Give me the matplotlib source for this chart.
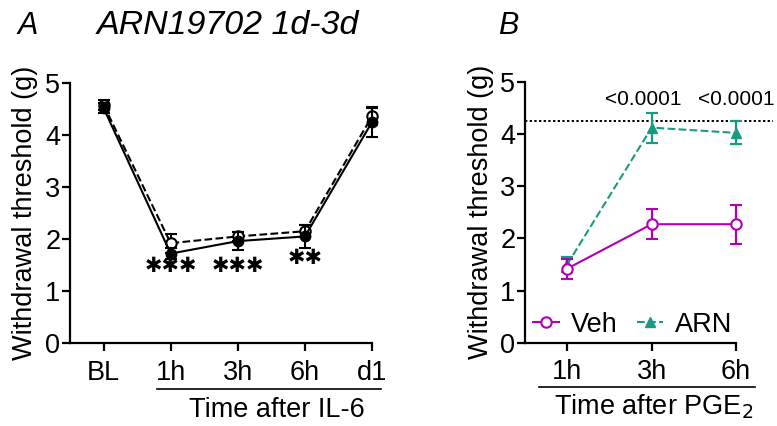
import matplotlib
matplotlib.use("Agg")
import matplotlib.pyplot as plt
from matplotlib.lines import Line2D
import numpy as np

plt.rcParams['font.family'] = ['Liberation Sans', 'DejaVu Sans']

# Panel A data
time_a = ["BL", "1h", "3h", "6h", "d1"]
open_mean = [4.58, 1.92, 2.05, 2.15, 4.36]
open_err = [0.10, 0.18, 0.09, 0.12, 0.16]
filled_mean = [4.52, 1.72, 1.96, 2.05, 4.25]
filled_err = [0.10, 0.10, 0.18, 0.22, 0.28]
stars = ["\u2731\u2731\u2731", "\u2731\u2731\u2731", "\u2731\u2731"]
star_pos = [1, 2, 3]
star_y = [1.48, 1.48, 1.63]

# Panel B data
time_b = ["1h", "3h", "6h"]
veh_mean = [1.42, 2.27, 2.27]
veh_err = [0.19, 0.29, 0.37]
arn_mean = [1.50, 4.12, 4.02]
arn_err = [0.15, 0.29, 0.22]
baseline = 4.25
pvals = ["<0.0001", "<0.0001"]

magenta = "#B000B5"
teal = "#1A9A80"
FS = 19.5

fig = plt.figure(figsize=(7.77, 4.26), dpi=100)
axA = fig.add_axes([0.0901, 0.1948, 0.3887, 0.6103])
axB = fig.add_axes([0.6757, 0.1955, 0.2716, 0.6127])


def style_axis(ax, n, label_x):
    ax.set_ylim(0, 5)
    ax.set_xlim(-0.5, n - 1)
    ax.spines['right'].set_visible(False)
    ax.spines['top'].set_visible(False)
    for s in ['left', 'bottom']:
        ax.spines[s].set_linewidth(1.6)
    ax.tick_params(width=1.6, length=6, labelsize=FS)
    ax.tick_params(axis='y', pad=1)
    ax.tick_params(axis='x', pad=6)
    ax.set_yticks(range(0, 6))
    ax.set_xticks(range(n))
    ax.set_ylabel("Withdrawal threshold (g)", fontsize=FS)
    ax.yaxis.set_label_coords(label_x, 0.5)


# ---- Panel A ----
xa = np.arange(len(time_a))
axA.errorbar(xa, open_mean, yerr=open_err, color='black', ls='--', lw=1.5,
             marker='o', mfc='white', mec='black', ms=7.5, mew=1.5,
             capsize=4, elinewidth=1.5, capthick=1.5, clip_on=False, zorder=3)
axA.errorbar(xa, filled_mean, yerr=filled_err, color='black', ls='-', lw=1.5,
             marker='o', mfc='black', mec='black', ms=7.5,
             capsize=4, elinewidth=1.5, capthick=1.5, clip_on=False, zorder=4)
style_axis(axA, len(time_a), -0.106)
axA.set_xticklabels(time_a)
for s, x, y in zip(stars, star_pos, star_y):
    axA.text(x, y, s, ha='center', va='center', fontsize=15,
             family='DejaVu Sans')

# ---- Panel B ----
xb = np.arange(len(time_b))
axB.plot([-0.5, 2.44], [baseline, baseline], ls=(0, (1.2, 1.2)), color='black',
         lw=1.4, clip_on=False, zorder=1)
axB.errorbar(xb, arn_mean, yerr=arn_err, color=teal, ls='--', lw=1.5,
             marker='^', mfc=teal, mec=teal, ms=7.5,
             capsize=4.5, elinewidth=1.6, capthick=1.6, clip_on=False, zorder=3)
axB.errorbar(xb, veh_mean, yerr=veh_err, color=magenta, ls='-', lw=1.5,
             marker='o', mfc='white', mec=magenta, ms=7.5, mew=1.5,
             capsize=4.5, elinewidth=1.6, capthick=1.6, clip_on=False, zorder=4)
style_axis(axB, len(time_b), -0.147)
axB.set_xticklabels(time_b)
p_off = [-0.1, 0.0]
for i, p in enumerate(pvals):
    axB.text(xb[i + 1] + p_off[i], 4.55, p, ha='center', va='baseline',
             fontsize=15)

handles = [Line2D([], [], color=magenta, ls='-', lw=1.5, marker='o',
                  mfc='white', mec=magenta, ms=7.5, mew=1.5),
           Line2D([], [], color=teal, ls='--', lw=1.5, marker='^',
                  mfc=teal, mec=teal, ms=7.5)]
axB.legend(handles, ["Veh", "ARN"], loc='center left', ncol=2, frameon=False,
           fontsize=FS, bbox_to_anchor=(0.04, 0.068), handlelength=0.95,
           handletextpad=0.44, columnspacing=0.7, borderaxespad=0,
           borderpad=0)

# x-axis group brackets and captions
fig.add_artist(Line2D([157 / 777, 381 / 777], [1 - 389 / 426] * 2,
                      color='black', lw=1.2))
fig.text(277 / 777, 1 - 410 / 426, "Time after IL-6", ha='center', va='center',
         fontsize=FS)
fig.add_artist(Line2D([539 / 777, 755 / 777], [1 - 387 / 426] * 2,
                      color='black', lw=1.2))
fig.text(654 / 777, 1 - 407 / 426, "Time after PGE$_2$", ha='center',
         va='center', fontsize=FS)

# panel labels and title
fig.text(17 / 777, 1 - 26 / 426, "A", fontsize=22, style='italic', va='center')
fig.text(97 / 777, 1 - 26 / 426, "ARN19702 1d-3d", fontsize=24.5,
         style='italic', va='center')
fig.text(498 / 777, 1 - 26 / 426, "B", fontsize=22, style='italic', va='center')

fig.savefig("out.png", dpi=100)
